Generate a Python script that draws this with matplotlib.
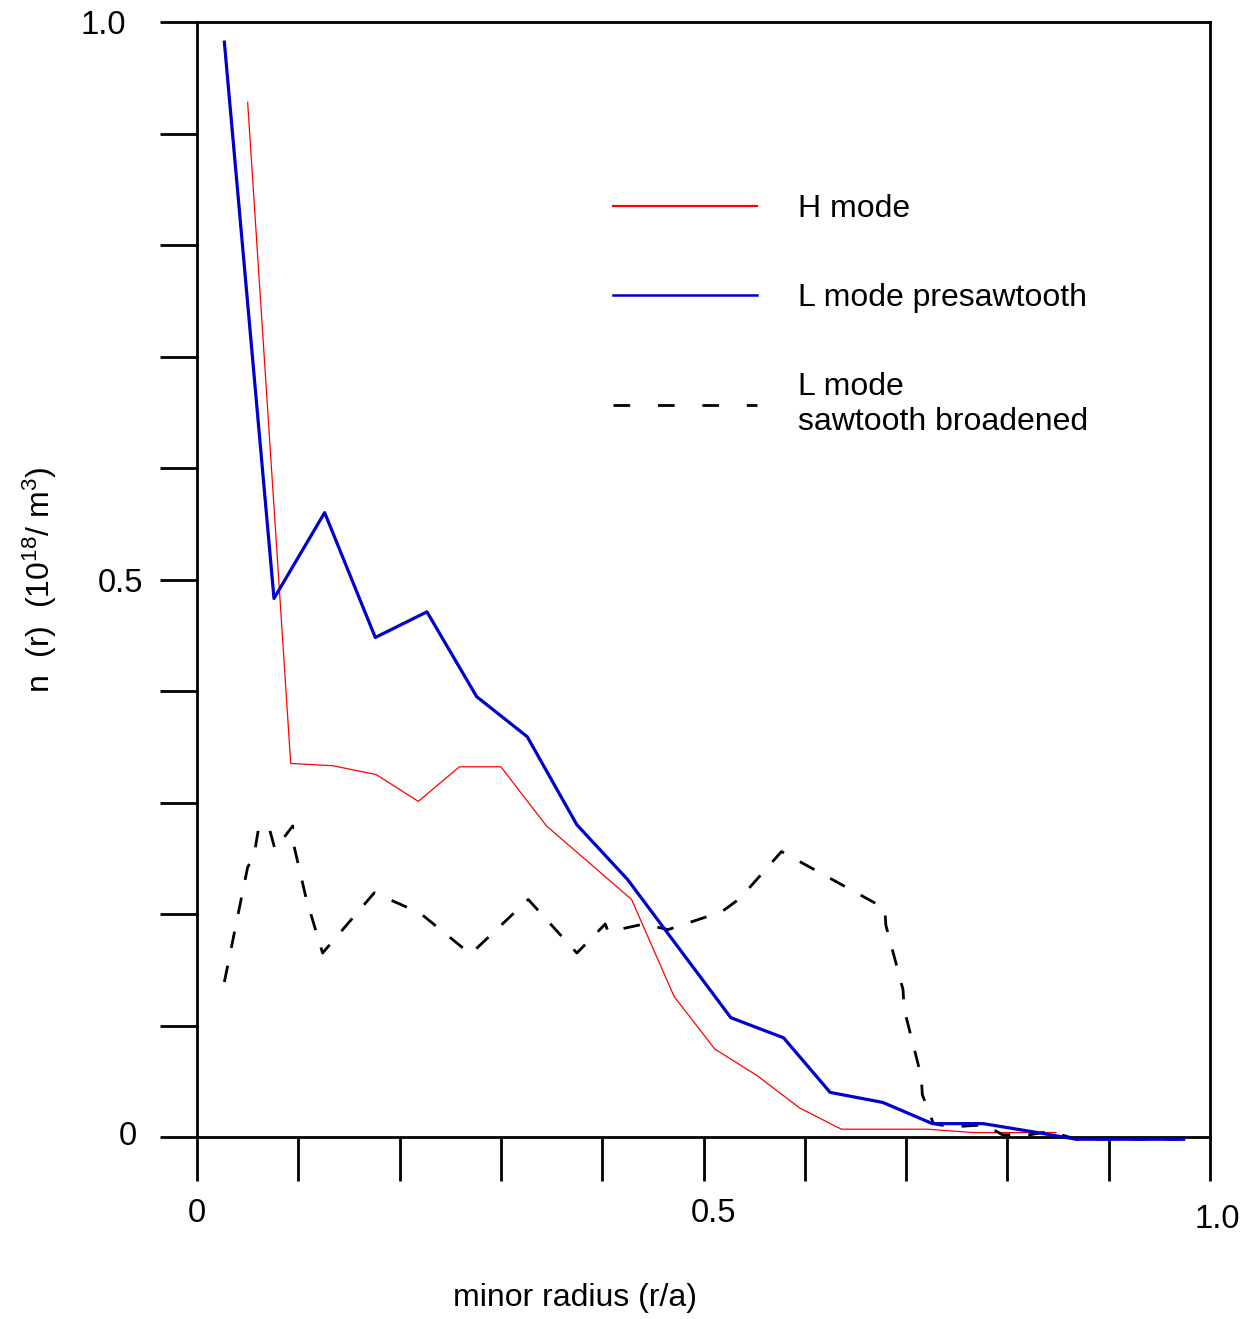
import numpy as np
import matplotlib
matplotlib.use("Agg")
import matplotlib.pyplot as plt
from matplotlib.lines import Line2D
from matplotlib.transforms import ScaledTranslation

plt.rcParams['font.family'] = ['Liberation Sans', 'DejaVu Sans']
plt.rcParams['mathtext.default'] = 'regular'

# ---- data ----
h_x = [0.050, 0.0925, 0.134, 0.177, 0.2185, 0.259, 0.300, 0.345, 0.429, 0.471,
       0.511, 0.553, 0.595, 0.636, 0.721, 0.766, 0.848]
h_y = [0.928, 0.335, 0.333, 0.325, 0.301, 0.332, 0.332, 0.279, 0.213, 0.126,
       0.079, 0.055, 0.026, 0.007, 0.007, 0.004, 0.004]

lp_x = [0.027, 0.076, 0.126, 0.176, 0.227, 0.276, 0.326, 0.375, 0.425, 0.527,
        0.579, 0.625, 0.677, 0.726, 0.776, 0.823, 0.868, 0.974]
lp_y = [0.982, 0.483, 0.560, 0.448, 0.471, 0.395, 0.359, 0.280, 0.231, 0.107,
        0.089, 0.040, 0.031, 0.012, 0.012, 0.005, -0.002, -0.002]

ls_x = [0.027, 0.050, 0.056, 0.061, 0.071, 0.077, 0.0945, 0.095, 0.108, 0.124,
        0.175, 0.220, 0.270, 0.327, 0.375, 0.403, 0.406, 0.441, 0.465, 0.518,
        0.536, 0.577, 0.625, 0.679, 0.680, 0.697, 0.698, 0.715, 0.716, 0.727,
        0.745, 0.778, 0.795, 0.822, 0.842, 0.868, 0.974]
ls_y = [0.139, 0.242, 0.251, 0.278, 0.278, 0.258, 0.279, 0.264, 0.213, 0.165,
        0.219, 0.201, 0.164, 0.213, 0.165, 0.191, 0.184, 0.191, 0.186, 0.202,
        0.214, 0.256, 0.232, 0.205, 0.190, 0.132, 0.115, 0.054, 0.038, 0.012,
        0.009, 0.011, 0.002, 0.002, 0.005, -0.002, -0.002]

x_ticks = [0.0, 0.1, 0.2, 0.3, 0.4, 0.5, 0.6, 0.7, 0.8, 0.9, 1.0]
x_ticklabels = ['0', '', '', '', '', '0.5', '', '', '', '', '1.0']
y_ticks = [0.0, 0.1, 0.2, 0.3, 0.4, 0.5, 0.6, 0.7, 0.8, 0.9, 1.0]
y_ticklabels = ['0', '', '', '', '', '0.5', '', '', '', '', '1.0']

labels = ['H mode', 'L mode presawtooth', 'L mode\nsawtooth broadened']

# ---- figure ----
fig = plt.figure(figsize=(12.54, 13.19), dpi=100)
ax = fig.add_axes([197/1254, 1 - 1137/1319, (1210-197)/1254, (1137-22)/1319])

red = '#ff0000'
blue = '#0000cc'

ax.plot(h_x, h_y, color=red, lw=0.9, clip_on=False, zorder=3)
ax.plot(lp_x, lp_y, color=blue, lw=2.3, clip_on=False, zorder=4)
ax.plot(ls_x, ls_y, color='black', lw=2.0, ls=(0, (6, 6.5)), clip_on=False, zorder=3)

ax.set_xlim(0, 1.0)
ax.set_ylim(0, 1.0)

ax.set_xticks(x_ticks)
ax.set_xticklabels(x_ticklabels)
ax.set_yticks(y_ticks)
ax.set_yticklabels(y_ticklabels)

for s in ax.spines.values():
    s.set_linewidth(2.0)
    s.set_color('black')

ax.tick_params(axis='x', direction='out', length=32, width=2.0, pad=12,
               labelsize=23.5, colors='black')
ax.tick_params(axis='y', direction='out', length=26.6, width=2.0, pad=12,
               labelsize=23.5, colors='black')

# small individual offsets of the tick labels as in the original
dpi_tr = fig.dpi_scale_trans
xoffs = {5: (10, 0), 10: (7, -6)}
for i, lab in enumerate(ax.get_xticklabels()):
    if i in xoffs:
        dx, dy = xoffs[i]
        lab.set_transform(lab.get_transform() + ScaledTranslation(dx/100, dy/100, dpi_tr))
yoffs = {10: (-17, 0), 0: (-7, 4)}
for i, lab in enumerate(ax.get_yticklabels()):
    if i in yoffs:
        dx, dy = yoffs[i]
        lab.set_transform(lab.get_transform() + ScaledTranslation(dx/100, dy/100, dpi_tr))

ax.set_xlabel('minor radius (r/a)', fontsize=23)
ax.xaxis.set_label_coords((575-197)/1013, -0.131)
ax.set_ylabel('n  (r)  (10$^{18}$/ m$^{3}$)', fontsize=23)
ax.yaxis.set_label_coords(-0.136, 0.5)

handles = [Line2D([], [], color=red, lw=1.6),
           Line2D([], [], color=blue, lw=1.8),
           Line2D([], [], color='black', lw=2.0, ls=(0, (6, 10)))]
leg = ax.legend(handles, labels, loc='upper left',
                bbox_to_anchor=((613-197)/1013, (1137-194)/1115),
                frameon=False, fontsize=23, handlelength=4.5,
                handletextpad=1.3, labelspacing=1.85,
                borderpad=0, borderaxespad=0)

fig.savefig('out.png', dpi=100)
